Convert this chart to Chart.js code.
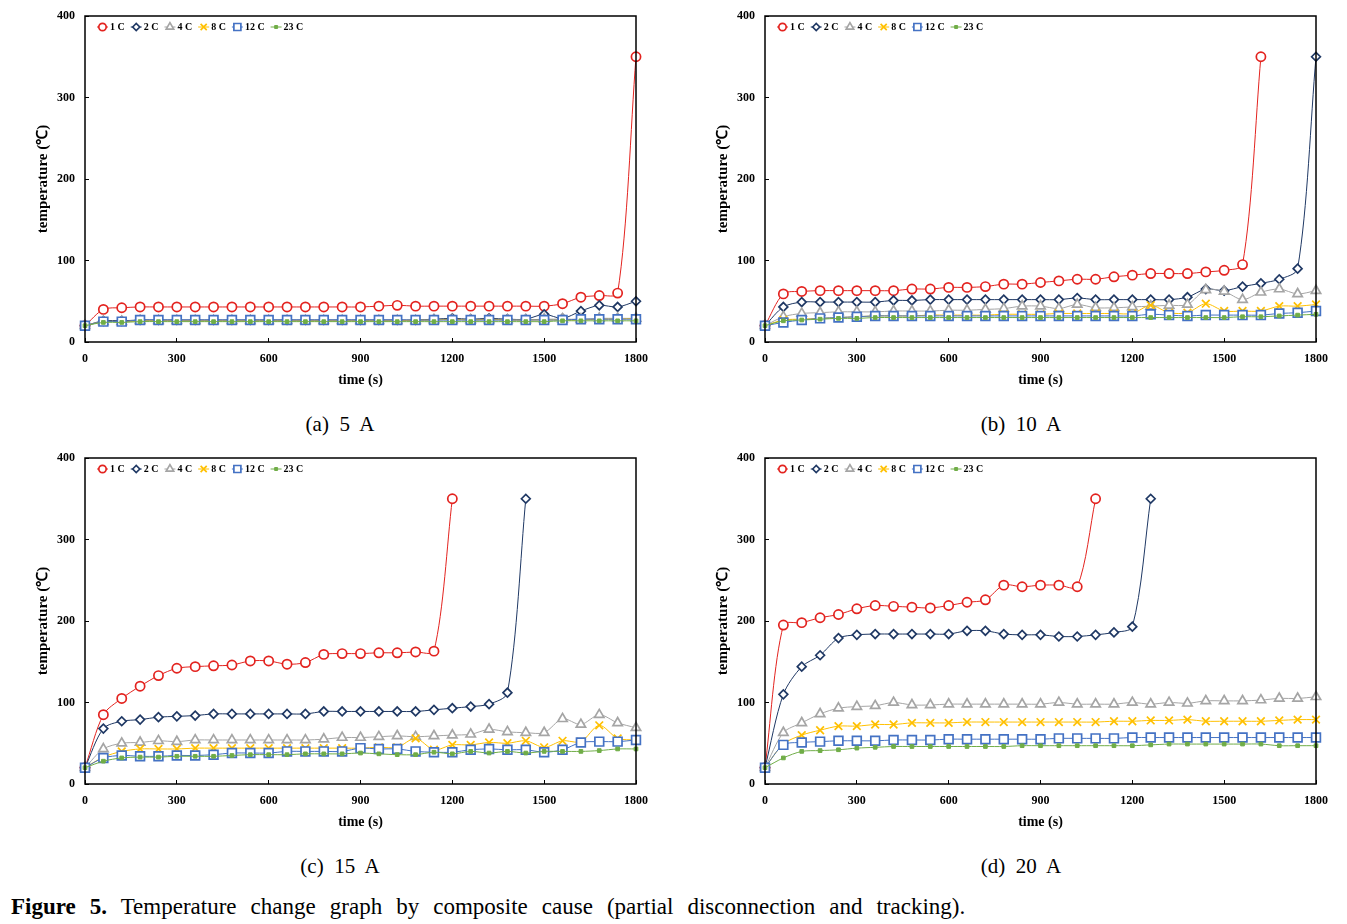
<!DOCTYPE html>
<html>
<head>
<meta charset="utf-8">
<script src="https://cdn.jsdelivr.net/npm/chart.js@4.4.1/dist/chart.umd.min.js"></script>
<style>
  body { margin: 0; background: #fff; width: 1347px; height: 924px; position: relative; overflow: hidden; font-family: "Liberation Serif", "Times New Roman", serif; color: #000; }
  canvas { position: absolute; }
  .cap { position: absolute; font-size: 21px; white-space: pre; transform: translateX(-50%); line-height: 24px; }
  #figcap { position: absolute; left: 11px; top: 893px; font-size: 23px; line-height: 28px; white-space: nowrap; word-spacing: 8.3px; }
</style>
</head>
<body>
<canvas id="chartA" width="660" height="400" style="left:0;top:0"></canvas>
<canvas id="chartB" width="660" height="400" style="left:680px;top:0"></canvas>
<canvas id="chartC" width="660" height="400" style="left:0;top:442px"></canvas>
<canvas id="chartD" width="660" height="400" style="left:680px;top:442px"></canvas>
<div class="cap" style="left:340px;top:412px">(a)  5  A</div>
<div class="cap" style="left:1021px;top:412px">(b)  10  A</div>
<div class="cap" style="left:340px;top:854px">(c)  15  A</div>
<div class="cap" style="left:1021px;top:854px">(d)  20  A</div>
<div id="figcap"><b>Figure 5.</b> Temperature change graph by composite cause (partial disconnection and tracking).</div>
<script>
const times = [0, 60, 120, 180, 240, 300, 360, 420, 480, 540, 600, 660, 720, 780, 840, 900,
  960, 1020, 1080, 1140, 1200, 1260, 1320, 1380, 1440, 1500, 1560, 1620, 1680, 1740, 1800];
const seriesLabels = ['1 C', '2 C', '4 C', '8 C', '12 C', '23 C'];
const xTicks = [0, 300, 600, 900, 1200, 1500, 1800];
const yTicks = [0, 100, 200, 300, 400];

// (a) 5 A
const a1C = [20, 40, 42, 43, 43, 43, 43, 43, 43, 43, 43, 43, 43, 43, 43, 43, 44, 45, 44, 44, 44, 44, 44, 44, 44, 44, 47, 55, 57, 60, 350];
const a2C = [20, 26, 26, 27, 27, 27, 27, 27, 27, 27, 27, 27, 27, 27, 27, 27, 27, 27, 27, 28, 29, 28, 29, 28, 28, 34, 29, 38, 45, 43, 50];
const a4C = [20, 25, 25, 26, 26, 26, 26, 26, 26, 26, 26, 26, 26, 26, 26, 26, 26, 26, 26, 27, 27, 27, 27, 27, 27, 28, 28, 28, 29, 29, 29];
const a8C = [20, 25, 25, 26, 26, 26, 26, 26, 26, 26, 26, 26, 26, 26, 26, 26, 26, 26, 27, 27, 28, 27, 28, 27, 27, 27, 27, 27, 28, 28, 29];
const a12C = [20, 25, 25, 27, 27, 27, 27, 27, 27, 27, 27, 27, 27, 27, 27, 27, 27, 27, 27, 27, 27, 27, 27, 27, 27, 27, 27, 28, 28, 28, 28];
const a23C = [20, 24, 24, 25, 25, 25, 25, 25, 25, 25, 25, 25, 25, 25, 25, 25, 25, 25, 25, 25, 25, 25, 25, 25, 25, 25, 26, 26, 26, 26, 26];

// (b) 10 A
const b1C = [20, 59, 62, 63, 63, 63, 63, 63, 65, 65, 67, 67, 68, 71, 71, 73, 75, 77, 77, 80, 82, 84, 84, 84, 86, 88, 95, 350];
const b2C = [20, 43, 49, 49, 49, 49, 49, 51, 51, 52, 52, 52, 52, 52, 52, 52, 52, 54, 52, 52, 52, 52, 52, 55, 65, 63, 68, 72, 77, 90, 350];
const b4C = [20, 31, 35, 36, 37, 37, 37, 38, 38, 38, 39, 39, 40, 41, 44, 44, 41, 46, 42, 42, 43, 44, 45, 46, 64, 62, 52, 61, 65, 59, 63];
const b8C = [20, 27, 28, 29, 30, 31, 32, 32, 32, 33, 33, 33, 33, 34, 34, 34, 35, 35, 35, 35, 35, 45, 36, 36, 47, 38, 38, 38, 44, 44, 46];
const b12C = [20, 24, 27, 29, 30, 31, 32, 32, 32, 32, 32, 32, 32, 32, 32, 32, 32, 32, 32, 32, 32, 34, 33, 32, 33, 33, 33, 33, 35, 36, 38];
const b23C = [20, 26, 27, 28, 29, 29, 30, 30, 30, 30, 30, 30, 30, 30, 30, 30, 30, 30, 30, 30, 30, 30, 30, 30, 30, 30, 31, 31, 32, 33, 34];

// (c) 15 A
const c1C = [20, 85, 105, 120, 133, 142, 144, 145, 146, 151, 151, 147, 149, 159, 160, 160, 161, 161, 162, 163, 350];
const c2C = [20, 68, 77, 79, 82, 83, 84, 86, 86, 86, 86, 86, 86, 89, 89, 89, 89, 89, 89, 91, 93, 95, 98, 112, 350];
const c4C = [20, 43, 50, 51, 53, 52, 54, 54, 54, 54, 54, 54, 54, 55, 57, 57, 58, 59, 58, 59, 60, 61, 67, 64, 63, 63, 80, 73, 85, 75, 69];
const c8C = [20, 33, 40, 43, 43, 43, 44, 44, 44, 44, 44, 44, 44, 44, 44, 44, 45, 45, 56, 42, 48, 48, 51, 50, 53, 45, 53, 52, 72, 56, 54];
const c12C = [20, 32, 35, 34, 34, 35, 35, 36, 38, 38, 38, 40, 40, 40, 40, 44, 43, 43, 40, 39, 39, 42, 43, 42, 42, 39, 42, 51, 52, 52, 54];
const c23C = [20, 28, 32, 33, 33, 34, 34, 34, 35, 36, 36, 36, 37, 37, 37, 38, 37, 36, 36, 39, 37, 40, 38, 40, 38, 40, 40, 40, 41, 43, 43];

// (d) 20 A
const d1C = [20, 195, 198, 204, 208, 215, 219, 218, 217, 216, 219, 223, 226, 244, 242, 244, 244, 242, 350];
const d2C = [20, 110, 144, 158, 179, 183, 184, 184, 184, 184, 184, 188, 188, 184, 183, 183, 181, 181, 183, 186, 193, 350];
const d4C = [20, 63, 75, 86, 93, 95, 96, 100, 97, 97, 98, 98, 98, 98, 98, 98, 100, 98, 98, 98, 100, 98, 100, 99, 102, 102, 102, 103, 105, 105, 107];
const d8C = [20, 49, 60, 66, 71, 71, 73, 73, 75, 75, 75, 76, 76, 76, 76, 76, 76, 76, 76, 77, 77, 78, 78, 79, 77, 77, 77, 77, 78, 79, 79];
const d12C = [20, 48, 51, 52, 53, 53, 53, 54, 54, 54, 55, 55, 55, 55, 55, 55, 56, 56, 56, 56, 57, 57, 57, 57, 57, 57, 57, 57, 57, 57, 57];
const d23C = [20, 32, 40, 41, 42, 44, 45, 46, 46, 46, 46, 46, 46, 46, 47, 47, 47, 47, 47, 47, 47, 48, 49, 49, 49, 49, 49, 49, 47, 47, 47];

// marker look per series (Excel style)
const seriesColors = ['#e3231f', '#1f3864', '#a5a5a5', '#ffc000', '#4472c4', '#70ad47'];
const pointStyles = ['circle', 'rectRot', 'triangle', 'crossRot', 'rect', 'rect'];
const pointRadii = [4.6, 4.4, 5.4, 5.4, 6.2, 2.6];

const serif = '"Liberation Serif", "Times New Roman", serif';
const tickFont = { family: serif, size: 12, weight: 'bold' };

// drop the label overhang padding so the plot box sits exactly where layout.padding puts it
function noOverhang(s) {
  s.paddingTop = 0; s.paddingBottom = 0; s.paddingLeft = 0; s.paddingRight = 0;
}

// black frame round the plot area
const frame = {
  id: 'frame',
  afterDraw(chart) {
    const { ctx, chartArea: a } = chart;
    ctx.save();
    ctx.strokeStyle = '#000';
    ctx.lineWidth = 1.5;
    ctx.strokeRect(a.left, a.top, a.right - a.left, a.bottom - a.top);
    ctx.restore();
  }
};

// legend drawn inside the plot, top left, like the Excel one
const inlineLegend = {
  id: 'inlineLegend',
  afterDraw(chart) {
    const { ctx, chartArea } = chart;
    ctx.save();
    ctx.font = 'bold 10px ' + serif;
    ctx.textBaseline = 'middle';
    let x = chartArea.left + 12;
    const y = chartArea.top + 11;
    chart.data.datasets.forEach(ds => {
      ctx.strokeStyle = ds.borderColor;
      ctx.lineWidth = 1;
      ctx.beginPath();
      ctx.moveTo(x, y);
      ctx.lineTo(x + 11, y);
      ctx.stroke();
      ctx.fillStyle = ds.pointBackgroundColor;
      ctx.lineWidth = ds.pointBorderWidth;
      Chart.helpers.drawPoint(ctx, { pointStyle: ds.pointStyle, radius: ds.pointRadius * 0.8, borderWidth: ds.pointBorderWidth, rotation: 0 }, x + 5.5, y);
      ctx.fillStyle = '#000';
      ctx.fillText(ds.label, x + 13, y + 0.5);
      x += 13 + ctx.measureText(ds.label).width + 6;
    });
    ctx.restore();
  }
};

function buildChart(id, series) {
  new Chart(document.getElementById(id), {
    type: 'line',
    data: {
      labels: times,
      datasets: series.map((values, i) => ({
        label: seriesLabels[i],
        data: values,
        borderColor: seriesColors[i],
        backgroundColor: seriesColors[i],
        borderWidth: 1,
        pointStyle: pointStyles[i],
        pointRadius: pointRadii[i],
        pointBorderWidth: i === 5 ? 1 : 1.7,
        pointBackgroundColor: i === 5 ? seriesColors[i] : '#fff',
        tension: 0.3,
        order: -i,
        clip: false
      }))
    },
    options: {
      responsive: false,
      animation: false,
      layout: { autoPadding: false, padding: { left: 30, right: 24, top: 16, bottom: 7 } },
      plugins: { legend: { display: false }, tooltip: { enabled: false } },
      scales: {
        x: {
          type: 'linear', min: 0, max: 1800,
          afterFit: s => { s.height = 51; noOverhang(s); },
          afterBuildTicks: s => { s.ticks = xTicks.map(v => ({ value: v })); },
          ticks: { padding: 14, color: '#000', font: tickFont, maxRotation: 0, callback: v => String(v) },
          grid: { drawOnChartArea: false, tickLength: -4, color: '#000' },
          border: { display: false },
          title: { display: true, text: 'time (s)', color: '#000', font: { family: serif, size: 14, weight: 'bold' }, padding: 4 }
        },
        y: {
          min: 0, max: 400,
          afterFit: s => { s.width = 55; noOverhang(s); },
          afterBuildTicks: s => { s.ticks = yTicks.map(v => ({ value: v })); },
          ticks: { padding: 14, color: '#000', font: tickFont, callback: v => String(v) },
          grid: { drawOnChartArea: false, tickLength: -4, color: '#000' },
          border: { display: false },
          title: { display: true, text: 'temperature (℃)', color: '#000', font: { family: serif, size: 15, weight: 'bold' }, padding: 4 }
        }
      }
    },
    plugins: [frame, inlineLegend]
  });
}

buildChart('chartA', [a1C, a2C, a4C, a8C, a12C, a23C]);
buildChart('chartB', [b1C, b2C, b4C, b8C, b12C, b23C]);
buildChart('chartC', [c1C, c2C, c4C, c8C, c12C, c23C]);
buildChart('chartD', [d1C, d2C, d4C, d8C, d12C, d23C]);
</script>
</body>
</html>
